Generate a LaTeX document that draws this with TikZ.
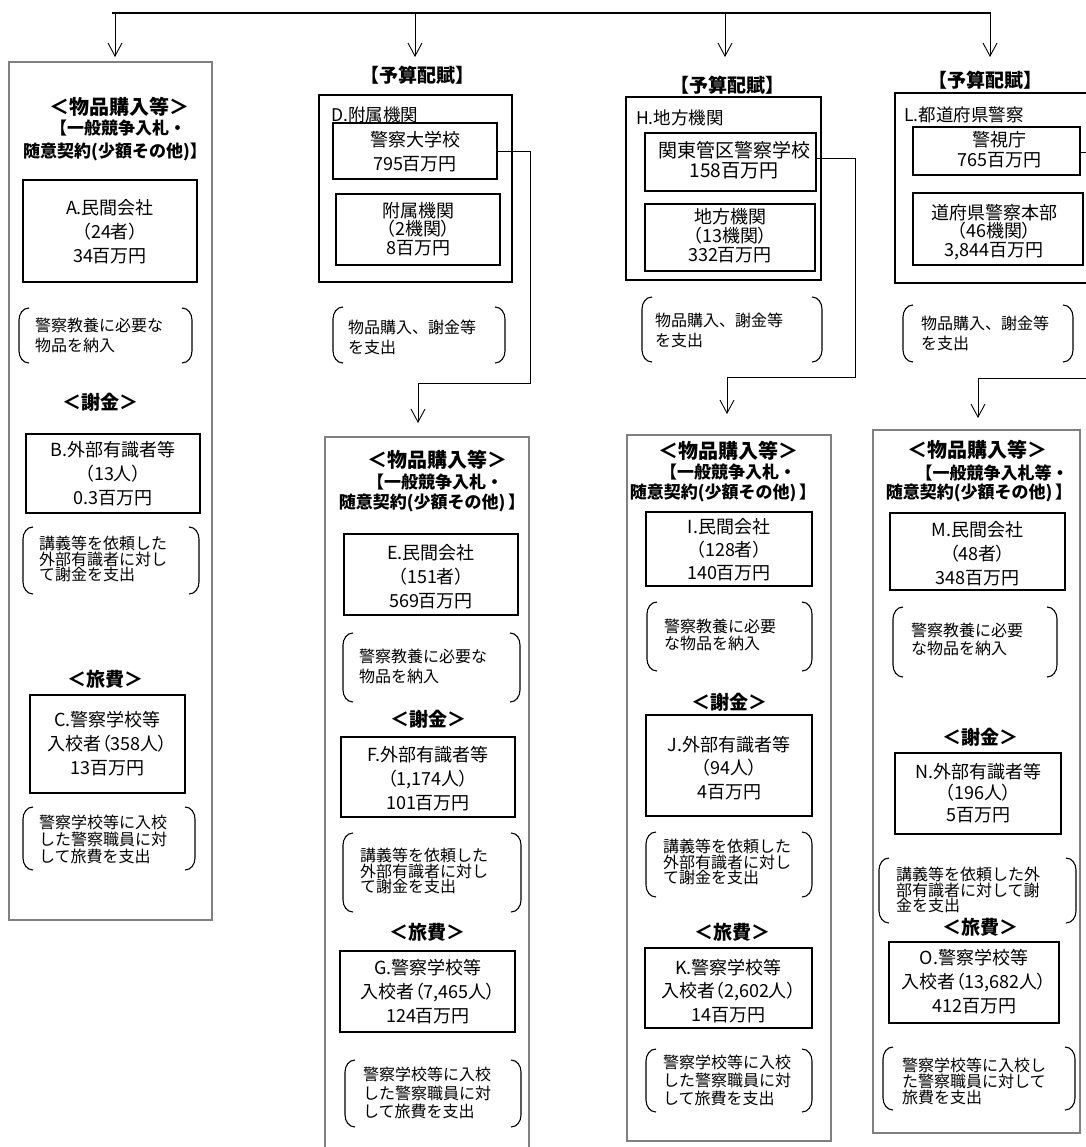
\documentclass[tikz,border=0pt]{standalone}
\usepackage{fontspec}
\setmainfont{Noto Sans CJK JP}
\newfontfamily\pfont{Noto Sans CJK JP}[CharacterWidth=AlternateProportional]
\usetikzlibrary{arrows.meta,fit}
\tikzset{
  bx/.style={draw,line width=2.6pt,inner sep=0pt,outer sep=0pt},
  bt/.style={inner sep=0pt,outer sep=0pt,align=center,font=\pfont\fontsize{18}{24}\selectfont},
  grp/.style={draw,line width=1.5pt,inner sep=0pt,outer sep=0pt},
  outerbox/.style={draw=black!50,line width=1.6pt,inner sep=0pt,outer sep=0pt},
  cbox/.style={inner sep=0pt,outer sep=0pt},
  cmt/.style={inner sep=0pt,outer sep=0pt,align=left,anchor=west,font=\fontsize{16}{19.5}\selectfont},
  brkline/.style={line width=1.1pt},
  hbig/.style={font=\bfseries\fontsize{20}{22}\selectfont,inner sep=0pt},
  hmid/.style={font=\bfseries\fontsize{19}{20}\selectfont,inner sep=0pt},
  hsm/.style={font=\bfseries\fontsize{17}{18}\selectfont,inner sep=0pt},
  hbud/.style={font=\bfseries\fontsize{19}{20}\selectfont,inner sep=0pt},
  lbl/.style={font=\fontsize{17.5}{20}\selectfont,inner sep=0pt,anchor=west},
  arr/.style={-{Straight Barb[length=13pt,width=14pt]},line width=0.9pt},
  conn/.style={line width=0.9pt}
}
\newcommand\brk[1]{%
  \draw[brkline] ([xshift=10pt]#1.north west) to[out=180,in=90] ([yshift=-12pt]#1.north west)
    -- ([yshift=12pt]#1.south west) to[out=-90,in=180] ([xshift=10pt]#1.south west);
  \draw[brkline] ([xshift=-10pt]#1.north east) to[out=0,in=90] ([yshift=-12pt]#1.north east)
    -- ([yshift=12pt]#1.south east) to[out=-90,in=0] ([xshift=-10pt]#1.south east);}
\begin{document}
\begin{tikzpicture}[x=1pt,y=-1pt]
\useasboundingbox[fill=white] (0,0) rectangle (1085,1147);

% top distribution line
\coordinate (t0) at (112,13);
\coordinate (t1) at (115,13);
\coordinate (t2) at (415,13);
\coordinate (t3) at (725,13);
\coordinate (t4) at (990,13);
\coordinate (e1) at (115,57);
\coordinate (e2) at (415,57);
\coordinate (e3) at (725,57);
\coordinate (e4) at (990,57);
\draw[line width=2pt] (t0) -- ([xshift=1pt]t4);
\foreach \i in {1,...,4} \draw[arr] (t\i) -- (e\i);

% ===== Column 1 =====
\node[outerbox,fit={(9,62) (212,920)}] (col1) {};
\node[hbig] (h1a) at (119,107) {＜物品購入等＞};
\node[hsm] (h1b) at (118,128) {【一般競争入札・};
\node[hsm] (h1c) at (115,152) {随意契約(少額その他)】};
\node[bx,fit={(23,180) (197,282)}] (A) {};
\node[bt] (At) at (110,232) {A.民間会社\\（24者）\\34百万円};
\node[cbox,fit={(19,308) (192,363)}] (cA) {};
\node[cmt] (cAt) at (35,335.5) {警察教養に必要な\\物品を納入};
\node[hmid] (h1d) at (100,402) {＜謝金＞};
\node[bx,fit={(26,434) (200,513)}] (B) {};
\node[bt] (Bt) at (113,474) {B.外部有識者等\\（13人）\\0.3百万円};
\node[cbox,fit={(23,527) (199,594)}] (cB) {};
\node[cmt,font=\fontsize{16}{14.5}\selectfont] (cBt) at (39,559) {講義等を依頼した\\外部有識者に対し\\て謝金を支出};
\node[hmid] (h1e) at (105,679) {＜旅費＞};
\node[bx,fit={(30,695) (185,793)}] (C) {};
\node[bt] (Ct) at (107.5,744) {C.警察学校等\\入校者（358人）\\13百万円};
\node[cbox,fit={(23,807) (195,870)}] (cC) {};
\node[cmt,font=\fontsize{16}{17}\selectfont] (cCt) at (39,839) {警察学校等に入校\\した警察職員に対\\して旅費を支出};

% ===== Column 2 =====
\node[hbud] (h2) at (417,75) {【予算配賦】};
\node[grp,fit={(319,95) (512,282)}] (D) {};
\node[lbl] (Dl) at (331,115) {D.附属機関};
\node[bx,fit={(333,123) (497,179)}] (DU) {};
\node[bt] (DUt) at (415,152) {警察大学校\\795百万円};
\node[bx,fit={(336,194) (500,265)}] (DA) {};
\node[bt,font=\pfont\fontsize{18}{18.5}\selectfont] (DAt) at (418,229) {附属機関\\（2機関）\\8百万円};
\node[cbox,fit={(333,307) (505,363)}] (cD) {};
\node[cmt,font=\fontsize{16}{20}\selectfont] (cDt) at (348,337) {物品購入、謝金等\\を支出};
\coordinate (jD1) at (530,151);
\coordinate (jD2) at (530,383);
\coordinate (jD3) at (418,383);
\coordinate (tD) at (418,423);
\draw[conn] (DU.east) -- (jD1) -- (jD2) -- (jD3);
\draw[arr] (jD3) -- (tD);

\node[outerbox,fit={(325,437) (529,1165)}] (col2) {};
\node[hbig] (h2a) at (437,460) {＜物品購入等＞};
\node[hsm] (h2b) at (435,482) {【一般競争入札・};
\node[hsm] (h2c) at (432,503) {随意契約(少額その他)\,】};
\node[bx,fit={(344,534) (518,615)}] (E) {};
\node[bt] (Et) at (431,577) {E.民間会社\\（151者）\\569百万円};
\node[cbox,fit={(343,633) (520,702)}] (cE) {};
\node[cmt] (cEt) at (359,666.5) {警察教養に必要な\\物品を納入};
\node[hmid] (h2d) at (428,719) {＜謝金＞};
\node[bx,fit={(341,737) (515,817)}] (F) {};
\node[bt] (Ft) at (428,779) {F.外部有識者等\\（1,174人）\\101百万円};
\node[cbox,fit={(343,833) (521,912)}] (cF) {};
\node[cmt,font=\fontsize{16}{14.5}\selectfont] (cFt) at (360,871) {講義等を依頼した\\外部有識者に対し\\て謝金を支出};
\node[hmid] (h2e) at (427,932) {＜旅費＞};
\node[bx,fit={(340,951) (515,1032)}] (G) {};
\node[bt] (Gt) at (428,992) {G.警察学校等\\入校者（7,465人）\\124百万円};
\node[cbox,fit={(345,1060) (521,1127)}] (cG) {};
\node[cmt,font=\fontsize{16}{18.5}\selectfont] (cGt) at (363,1093) {警察学校等に入校\\した警察職員に対\\して旅費を支出};

% ===== Column 3 =====
\node[hbud] (h3) at (727,85) {【予算配賦】};
\node[grp,fit={(626,97) (821,280)}] (H) {};
\node[lbl] (Hl) at (636,118) {H.地方機関};
\node[bx,fit={(645,133) (816,191)}] (HK) {};
\node[bt,font=\pfont\fontsize{19}{20}\selectfont] (HKt) at (734,160) {関東管区警察学校\\158百万円};
\node[bx,fit={(645,204) (815,271)}] (HA) {};
\node[bt,font=\pfont\fontsize{18}{19}\selectfont] (HAt) at (730,236) {地方機関\\（13機関）\\332百万円};
\node[cbox,fit={(642,297) (822,362)}] (cH) {};
\node[cmt,font=\fontsize{16}{20}\selectfont] (cHt) at (655,330) {物品購入、謝金等\\を支出};
\coordinate (jH1) at (855,158);
\coordinate (jH2) at (855,377);
\coordinate (jH3) at (727,377);
\coordinate (tH) at (727,414);
\draw[conn] (HK.east |- jH1) -- (jH1) -- (jH2) -- (jH3);
\draw[arr] (jH3) -- (tH);

\node[outerbox,fit={(627,435) (831,1141)}] (col3) {};
\node[hbig] (h3a) at (728,451) {＜物品購入等＞};
\node[hsm] (h3b) at (728,472) {【一般競争入札・};
\node[hsm] (h3c) at (723,493) {随意契約(少額その他)\,】};
\node[bx,fit={(646,512) (812,586)}] (I) {};
\node[bt,font=\pfont\fontsize{18}{23}\selectfont] (It) at (729,550) {I.民間会社\\（128者）\\140百万円};
\node[cbox,fit={(647,602) (812,671)}] (cI) {};
\node[cmt,font=\fontsize{16}{17}\selectfont] (cIt) at (664,635) {警察教養に必要\\な物品を納入};
\node[hmid] (h3d) at (729,702) {＜謝金＞};
\node[bx,fit={(646,715) (812,816)}] (J) {};
\node[bt,font=\pfont\fontsize{18}{23.5}\selectfont] (Jt) at (729,768) {J.外部有識者等\\（94人）\\4百万円};
\node[cbox,fit={(646,832) (812,897)}] (cJ) {};
\node[cmt,font=\fontsize{16}{14.5}\selectfont] (cJt) at (663,862) {講義等を依頼した\\外部有識者に対し\\て謝金を支出};
\node[hmid] (h3e) at (732,932) {＜旅費＞};
\node[bx,fit={(645,948) (812,1028)}] (K) {};
\node[bt,font=\pfont\fontsize{18}{23.5}\selectfont] (Kt) at (728.5,991) {K.警察学校等\\入校者（2,602人）\\14百万円};
\node[cbox,fit={(646,1049) (812,1112)}] (cK) {};
\node[cmt,font=\fontsize{16}{18}\selectfont] (cKt) at (663,1080) {警察学校等に入校\\した警察職員に対\\して旅費を支出};

% ===== Column 4 =====
\node[hbud] (h4) at (985,80) {【予算配賦】};
\node[grp,fit={(895,93) (1100,283)}] (L) {};
\node[lbl] (Ll) at (904,115) {L.都道府県警察};
\node[bx,fit={(913,127) (1080,175)}] (LK) {};
\node[bt,font=\pfont\fontsize{18}{20}\selectfont] (LKt) at (999,150) {警視庁\\765百万円};
\node[bx,fit={(913,193) (1083,265)}] (LD) {};
\node[bt,font=\pfont\fontsize{18}{18.5}\selectfont] (LDt) at (994,232) {道府県警察本部\\（46機関）\\3,844百万円};
\node[cbox,fit={(903,305) (1073,362)}] (cL) {};
\node[cmt,font=\fontsize{16}{20}\selectfont] (cLt) at (921,333) {物品購入、謝金等\\を支出};
\coordinate (jL1) at (1092,152);
\coordinate (jL2) at (1092,378);
\coordinate (jL3) at (978,378);
\coordinate (tL) at (978,418);
\draw[conn] (LK.east |- jL1) -- (jL1) -- (jL2) -- (jL3);
\draw[arr] (jL3) -- (tL);

\node[outerbox,fit={(873,430) (1080,1133)}] (col4) {};
\node[hbig] (h4a) at (977,450) {＜物品購入等＞};
\node[hsm] (h4b) at (992,473) {【一般競争入札等・};
\node[hsm] (h4c) at (979,493) {随意契約(少額その他)\,】};
\node[bx,fit={(890,513) (1065,590)}] (M) {};
\node[bt] (Mt) at (977.5,554) {M.民間会社\\（48者）\\348百万円};
\node[cbox,fit={(893,607) (1057,677)}] (cM) {};
\node[cmt,font=\fontsize{16}{18}\selectfont] (cMt) at (911,639) {警察教養に必要\\な物品を納入};
\node[hmid] (h4d) at (980,737) {＜謝金＞};
\node[bx,fit={(895,753) (1061,834)}] (N) {};
\node[bt,font=\pfont\fontsize{18}{21.5}\selectfont] (Nt) at (978,793) {N.外部有識者等\\（196人）\\5百万円};
\node[cbox,fit={(879,858) (1076,923)}] (cN) {};
\node[cmt,font=\fontsize{16}{13.5}\selectfont] (cNt) at (896,890) {講義等を依頼した外\\部有識者に対して謝\\金を支出};
\node[hmid] (h4e) at (980,927) {＜旅費＞};
\node[bx,fit={(889,942) (1059,1023)}] (O) {};
\node[bt] (Ot) at (974,982) {O.警察学校等\\入校者（13,682人）\\412百万円};
\node[cbox,fit={(883,1047) (1075,1110)}] (cO) {};
\node[cmt,font=\fontsize{16}{13.5}\selectfont] (cOt) at (902,1081.5) {警察学校等に入校し\\た警察職員に対して\\旅費を支出};

% brackets
\foreach \c in {cA,cB,cC,cD,cE,cF,cG,cH,cI,cJ,cK,cL,cM,cN,cO} {\brk{\c}}
\end{tikzpicture}
\end{document}
